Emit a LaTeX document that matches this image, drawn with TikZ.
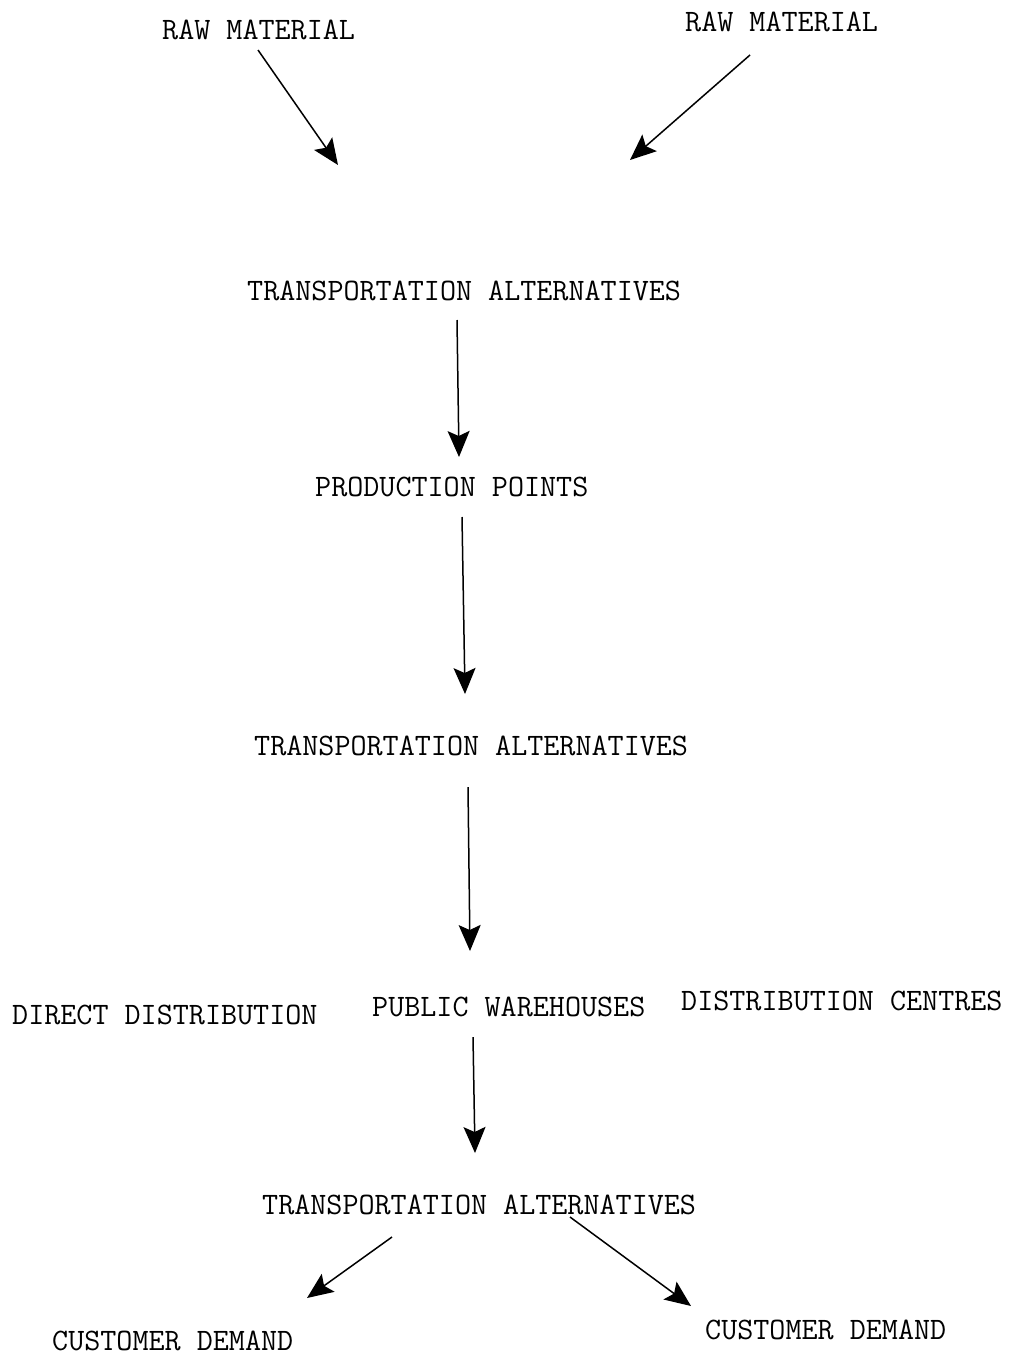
\documentclass[tikz,border=0pt]{standalone}
\usetikzlibrary{arrows.meta}
\begin{document}
\begin{tikzpicture}[x=1pt,y=-1pt,
  lbl/.style={anchor=west,inner sep=0pt,font=\fontsize{31.2}{36}\selectfont\ttfamily},
  flow/.style={line width=1.5pt,-{Stealth[length=26pt,width=22pt,inset=5pt]}}]
\useasboundingbox (0,0) rectangle (1012,1358);
\node[lbl] (rm1) at (162,30) {RAW MATERIAL};
\node[lbl] (rm2) at (685,22) {RAW MATERIAL};
\node[lbl] (ta1) at (247,291) {TRANSPORTATION ALTERNATIVES};
\node[lbl] (pp) at (315,487) {PRODUCTION POINTS};
\node[lbl] (ta2) at (254,746) {TRANSPORTATION ALTERNATIVES};
\node[lbl] (dd) at (12,1015) {DIRECT DISTRIBUTION};
\node[lbl] (pw) at (372,1007) {PUBLIC WAREHOUSES};
\node[lbl] (dc) at (681,1001) {DISTRIBUTION CENTRES};
\node[lbl] (ta3) at (262,1205) {TRANSPORTATION ALTERNATIVES};
\node[lbl] (cd1) at (52,1341) {CUSTOMER DEMAND};
\node[lbl] (cd2) at (705,1330) {CUSTOMER DEMAND};
% connector ends
\coordinate (a1s) at (258,50);   \coordinate (a1e) at (338,165);
\coordinate (a2s) at (750,55);   \coordinate (a2e) at (630,160);
\coordinate (a3s) at (457,320);  \coordinate (a3e) at (459,457);
\coordinate (a4s) at (462,517);  \coordinate (a4e) at (465,694);
\coordinate (a5s) at (468,787);  \coordinate (a5e) at (470,951);
\coordinate (a6s) at (473,1037); \coordinate (a6e) at (475,1153);
\coordinate (a7s) at (392,1237); \coordinate (a7e) at (307,1298);
\coordinate (a8s) at (570,1217); \coordinate (a8e) at (691,1306);
\draw[flow] (a1s) -- (a1e);
\draw[flow] (a2s) -- (a2e);
\draw[flow] (a3s) -- (a3e);
\draw[flow] (a4s) -- (a4e);
\draw[flow] (a5s) -- (a5e);
\draw[flow] (a6s) -- (a6e);
\draw[flow] (a7s) -- (a7e);
\draw[flow] (a8s) -- (a8e);
\end{tikzpicture}
\end{document}
